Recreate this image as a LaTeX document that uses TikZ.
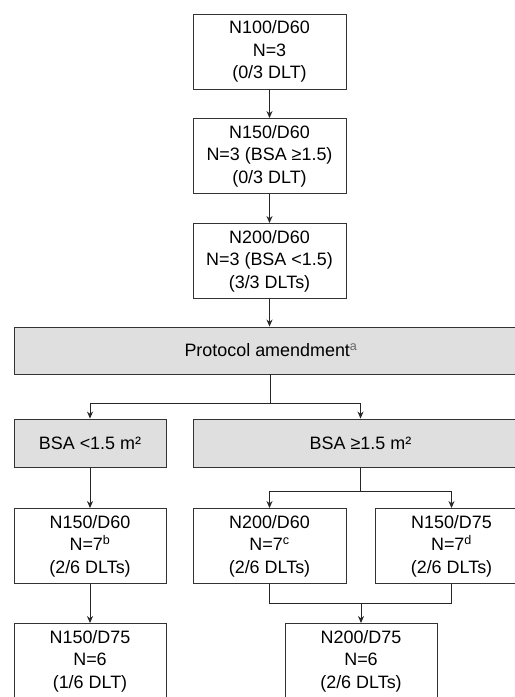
\documentclass[tikz,border=0pt]{standalone}
\usepackage{fontspec}
\setmainfont{Liberation Sans}
\usetikzlibrary{arrows.meta,positioning,calc}

\begin{document}
\begin{tikzpicture}[
  x=1bp, y=-1bp,
  >=Stealth,
  dbox/.style={draw=black!80, line width=0.9bp, rectangle, fill=white,
               minimum width=153bp, minimum height=75bp,
               inner sep=2pt, align=center,
               font=\fontsize{18}{22.5}\selectfont},
  % gray bars of the amendment and the two BSA strata
  gbar/.style={draw=black!80, line width=0.9bp, rectangle, fill=gray!25,
               minimum height=48bp, inner sep=2pt, align=center,
               font=\fontsize{18}{22.5}\selectfont},
  conn/.style={black!85, line width=1bp},
  darr/.style={conn, -{Stealth[length=7bp,width=6bp]}},
]

\fill[white] (0,0) rectangle (515,697);
\useasboundingbox (0,0) rectangle (515,697);

%%---- Dose escalation before the amendment --------------------------
\node[dbox] (DoseA) at (269.5, 51.5) {N100/D60\\N=3\\(0/3 DLT)};
\node[dbox] (DoseB) at (269.5, 156) {N150/D60\\N=3 (BSA ≥1.5)\\(0/3 DLT)};
\node[dbox] (DoseC) at (269.5, 261) {N200/D60\\N=3 (BSA <1.5)\\(3/3 DLTs)};

\draw[darr] (DoseA.south) -- (DoseB.north);
\draw[darr] (DoseB.south) -- (DoseC.north);

%%---- Amendment bar -------------------------------------------------
\node[gbar, minimum width=514bp, minimum height=47bp] (Amend) at (271, 350.5)
  {Protocol amendment\textsuperscript{\textcolor{black!60}{a}}};

\draw[darr] (DoseC.south) -- (Amend.north -| DoseC.south);

%%---- BSA strata ----------------------------------------------------
\node[gbar, minimum width=152bp] (BsaL) at (90, 443) {BSA <1.5 m²};
\node[gbar, minimum width=335bp] (BsaR) at (360.5, 443) {BSA ≥1.5 m²};

\coordinate (splitA) at (270, 403);
\draw[conn] (Amend.south -| splitA) -- (splitA);
\draw[darr] (splitA) -| (BsaL.north);
\draw[darr] (splitA) -| (BsaR.north);

%%---- Cohorts after the amendment -----------------------------------
\node[dbox, minimum width=152bp] (CohL) at (90, 546)
  {N150/D60\\N=7\textsuperscript{b}\\(2/6 DLTs)};
\node[dbox] (CohM) at (269.5, 546)
  {N200/D60\\N=7\textsuperscript{c}\\(2/6 DLTs)};
\node[dbox] (CohR) at (451.5, 546)
  {N150/D75\\N=7\textsuperscript{d}\\(2/6 DLTs)};

\draw[darr] (BsaL.south) -- (CohL.north);

\coordinate (splitB) at ($(BsaR.south)+(0,24)$);
\draw[conn] (BsaR.south) -- (splitB);
\draw[darr] (splitB) -| (CohM.north);
\draw[darr] (splitB) -| (CohR.north);

%%---- Final cohorts -------------------------------------------------
\node[dbox, minimum width=152bp] (FinL) at (90, 661)
  {N150/D75\\N=6\\(1/6 DLT)};
\node[dbox, minimum width=152bp] (FinR) at (361, 661)
  {N200/D75\\N=6\\(2/6 DLTs)};

\draw[darr] (CohL.south) -- (FinL.north);

\coordinate (joinC) at (361, 603);
\draw[conn] (CohM.south) |- (CohR.south |- joinC) -- (CohR.south);
\draw[darr] (joinC) -- (FinR.north);

\end{tikzpicture}
\end{document}
